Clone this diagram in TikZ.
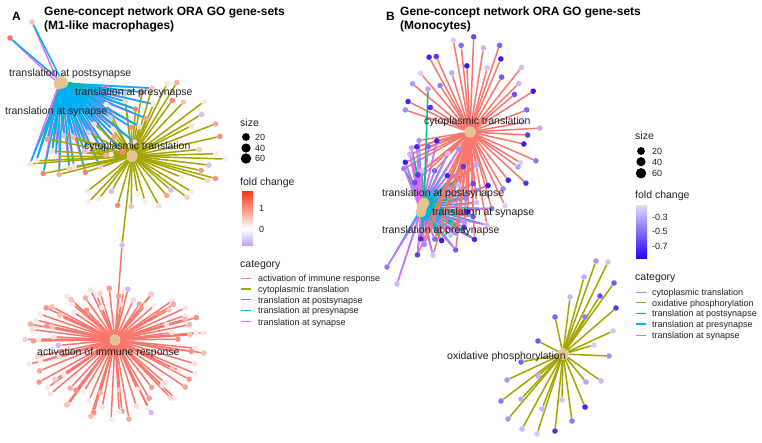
\documentclass[tikz,border=0pt]{standalone}
\usepackage{fontspec}
\setmainfont{Liberation Sans}
\usetikzlibrary{calc}
\pgfdeclarelayer{edges}
\pgfsetlayers{edges,main}

\definecolor{catred}{HTML}{F8766D}
\definecolor{catolive}{HTML}{A3A500}
\definecolor{catgreen}{HTML}{00BF7D}
\definecolor{catblue}{HTML}{00B0F6}
\definecolor{catpink}{HTML}{E76BF3}
\definecolor{hubtan}{HTML}{E6C291}
\definecolor{fcred}{HTML}{F4361C}
\definecolor{fclav}{HTML}{C0A3F6}
\definecolor{fcblue}{HTML}{2A00F2}
\definecolor{fcpale}{HTML}{E3DAFA}
\definecolor{inkgrey}{HTML}{1F1F1F}

\newcommand{\leafsize}{5.6pt}
\newcommand{\hubsize}{11pt}

\tikzset{
  leaf/.style={circle, inner sep=0pt, minimum size=\leafsize},
  hub/.style={circle, inner sep=0pt, minimum size=\hubsize, fill=hubtan},
  link/.style={line width=1.5pt},
  setname/.style={anchor=base west, inner sep=0pt, text=inkgrey,
    font=\fontsize{10.5}{12}\selectfont},
  paneltitle/.style={anchor=base west, inner sep=0pt,
    font=\bfseries\fontsize{12}{14}\selectfont},
  keytitle/.style={anchor=base west, inner sep=0pt, text=inkgrey,
    font=\fontsize{10.5}{12}\selectfont},
  keytext/.style={anchor=base west, inner sep=0pt, text=inkgrey,
    font=\fontsize{9}{11}\selectfont}
}

\begin{document}
\begin{tikzpicture}[x=1pt, y=-1pt]
\useasboundingbox (0,0) rectangle (762,442);

      %% titles
      \node (tagA) at (12,20.5) [paneltitle] {A};
      \node (headA) at (44,15) [paneltitle] {Gene-concept network ORA GO gene-sets};
      \node (subA) at (44,29.5) [paneltitle] {(M1-like macrophages)};
      \node (tagB) at (386,20.5) [paneltitle] {B};
      \node (headB) at (400,15) [paneltitle] {Gene-concept network ORA GO gene-sets};
      \node (subB) at (400,29.5) [paneltitle] {(Monocytes)};

      %% panel A: activation of immune response
      \node (immA) at (115,340) [hub] {};
      \foreach \i in {1,...,96}
      { \pgfmathsetmacro{\a}{\i*3.75+3*sin(\i*71)}
        \pgfmathsetmacro{\f}{0.62+0.38*abs(sin(\i*47))}
        \pgfmathsetmacro{\ry}{ifthenelse(sin(\a)>0,80,52)}
        \pgfmathsetmacro{\dx}{90*\f*cos(\a)}
        \pgfmathsetmacro{\dy}{\ry*\f*sin(\a)}
        \pgfmathtruncatemacro{\p}{10+45*abs(sin(\i*29))^4}
        \pgfmathtruncatemacro{\k}{mod(\i*7,29)}
        \ifnum\k=3 \edef\lc{fclav!75!white}\else\edef\lc{fcred!\p!white}\fi
        \node (immA\i) at ($(immA)+(\dx,\dy)$) [leaf, fill=\lc] {};
      }
      \begin{pgfonlayer}{edges}
        \foreach \i in {1,...,96}
        { \draw[link, catred] (immA) -- (immA\i);}
      \end{pgfonlayer}

      %% panel A: cytoplasmic translation
      \node (cytA) at (132,156) [hub] {};
      \foreach \i in {1,...,30}
      { \pgfmathsetmacro{\a}{-75+\i*6.7+2*sin(\i*83)}
        \pgfmathsetmacro{\f}{0.66+0.34*abs(sin(\i*53))}
        \pgfmathsetmacro{\ry}{ifthenelse(sin(\a)>0,52,85)}
        \pgfmathsetmacro{\dx}{94*\f*cos(\a)}
        \pgfmathsetmacro{\dy}{\ry*\f*sin(\a)}
        \pgfmathtruncatemacro{\p}{10+50*abs(sin(\i*31))^4}
        \pgfmathtruncatemacro{\k}{mod(\i*5,7)}
        \ifnum\k=2 \edef\lc{fclav!70!white}\else\edef\lc{fcred!\p!white}\fi
        \node (cytA\i) at ($(cytA)+(\dx,\dy)$) [leaf, fill=\lc] {};
      }
      \begin{pgfonlayer}{edges}
        \foreach \i in {1,...,30}
        { \draw[link, catolive] (cytA) -- (cytA\i);}
      \end{pgfonlayer}

      %% gene shared by both A modules
      \node (lnkA) at (122,245) [leaf, fill=fclav!75!white] {};
      \begin{pgfonlayer}{edges}
        \draw[link, catolive] (cytA) -- (lnkA);
        \draw[link, catred] (immA) -- (lnkA);
      \end{pgfonlayer}

      %% panel A: synapse gene-sets (three hubs on top of each other)
      \node (postA) at (61,81) [hub] {};
      \node (synA) at (59,84) [hub] {};
      \node (preA) at (63,83) [hub] {};
      \foreach \i in {1,...,34}
      { \pgfmathsetmacro{\a}{\i*3.3}
        \pgfmathsetmacro{\r}{45+48*abs(sin(\i*67))}
        \pgfmathsetmacro{\dx}{\r*cos(\a)}
        \pgfmathsetmacro{\dy}{\r*sin(\a)}
        \pgfmathtruncatemacro{\p}{12+55*abs(sin(\i*43))^3}
        \pgfmathtruncatemacro{\k}{mod(\i*3,8)}
        \ifnum\k=1 \edef\lc{fclav!70!white}\else\edef\lc{fcred!\p!white}\fi
        \node (shA\i) at ($(preA)+(\dx,\dy)$) [leaf, fill=\lc] {};
      }
      \foreach \n/\x/\y/\p in {1/10/38/70, 2/32/22/30}
      { \node (synleafA\n) at (\x,\y) [leaf, fill=fcred!\p!white] {};}
      \begin{pgfonlayer}{edges}
        \foreach \i in {1,...,34}
        { \pgfmathtruncatemacro{\g}{mod(\i,3)}
          \draw[link, catolive] (cytA) -- (shA\i);
          \draw[link, catpink] (synA) -- (shA\i);
          \ifnum\g=0 \draw[link, catgreen] (postA) -- (shA\i); \fi
          \draw[link, catblue] (preA) -- (shA\i);
        }
        \foreach \n in {1,2}
        { \draw[link, catpink] (synA) -- (synleafA\n);
          \draw[link, catblue] (preA) -- (synleafA\n);}
      \end{pgfonlayer}

      %% panel A: gene-set names
      \node (namepostA) at (9,76) [setname] {translation at postsynapse};
      \node (namepreA) at (75,95.5) [setname] {translation at presynapse};
      \node (namesynA) at (5,114.5) [setname] {translation at synapse};
      \node (namecytA) at (84,149.5) [setname] {cytoplasmic translation};
      \node (nameimmA) at (37,355.5) [setname] {activation of immune response};

      %% panel B: cytoplasmic translation
      \node (cytB) at (470,132) [hub] {};
      \foreach \i in {1,...,34}
      { \pgfmathsetmacro{\a}{-175+\i*6.9+2*sin(\i*79)}
        \pgfmathsetmacro{\f}{0.6+0.4*abs(sin(\i*61))}
        \pgfmathsetmacro{\ry}{ifthenelse(sin(\a)>0,85,97)}
        \pgfmathsetmacro{\dx}{70*\f*cos(\a)}
        \pgfmathsetmacro{\dy}{\ry*\f*sin(\a)}
        \pgfmathtruncatemacro{\p}{5+85*abs(sin(\i*37))^2}
        \node (cytB\i) at ($(cytB)+(\dx,\dy)$) [leaf, fill=fcblue!\p!fcpale] {};
      }
      \begin{pgfonlayer}{edges}
        \foreach \i in {1,...,34}
        { \draw[link, catred] (cytB) -- (cytB\i);}
      \end{pgfonlayer}

      %% panel B: synapse gene-sets
      \node (postB) at (424,203) [hub] {};
      \node (preB) at (422,207) [hub] {};
      \node (synB) at (421,212) [hub] {};
      \foreach \i in {1,...,38}
      { \pgfmathsetmacro{\a}{-150+\i*6.6}
        \pgfmathsetmacro{\r}{30+40*abs(sin(\i*59))}
        \pgfmathsetmacro{\dx}{\r*cos(\a)*ifthenelse(cos(\a)<0,0.35,1)}
        \pgfmathsetmacro{\dy}{\r*sin(\a)*ifthenelse(sin(\a)>0,0.7,1)}
        \pgfmathtruncatemacro{\p}{10+80*abs(sin(\i*41))^2}
        \node (shB\i) at ($(preB)+(\dx,\dy)$) [leaf, fill=fcblue!\p!fcpale] {};
      }
      \foreach \n/\x/\y/\p in {1/387/267/45, 2/397/284/15}
      { \node (synleafB\n) at (\x,\y) [leaf, fill=fcblue!\p!fcpale] {};}
      \node (postleafB) at (428,89) [leaf, fill=fcblue!25!fcpale] {};
      \begin{pgfonlayer}{edges}
        \foreach \i in {1,...,38}
        { \pgfmathtruncatemacro{\g}{mod(\i,4)}
          \draw[link, catred] (cytB) -- (shB\i);
          \draw[link, catblue] (preB) -- (shB\i);
          \ifnum\g=1 \draw[link, catgreen] (postB) -- (shB\i); \fi
          \draw[link, catpink] (synB) -- (shB\i);
        }
        \foreach \n in {1,2}
        { \draw[link, catblue] (preB) -- (synleafB\n);
          \draw[link, catpink] (synB) -- (synleafB\n);}
        \draw[link, catgreen] (postB) -- (postleafB);
      \end{pgfonlayer}

      %% panel B: oxidative phosphorylation
      \node (oxB) at (563,354) [hub] {};
      \foreach \n/\x/\y/\p in {1/596/261/30, 2/608/262/10, 3/584/277/20,
        4/614/283/60, 5/570/297/15, 6/600/296/65, 7/555/317/55, 8/585/317/45,
        9/616/308/75, 10/613/331/10, 11/594/345/5, 12/609/356/35,
        13/538/341/60, 14/521/362/55, 15/507/380/30, 16/538/376/20,
        17/586/382/25, 18/601/381/15, 19/501/401/45, 20/521/399/20,
        21/542/409/15, 22/562/400/10, 23/585/407/85, 24/508/419/30,
        25/522/429/15, 26/537/434/5, 27/555/431/80, 28/572/421/45}
      { \node (oxB\n) at (\x,\y) [leaf, fill=fcblue!\p!fcpale] {};}
      \begin{pgfonlayer}{edges}
        \foreach \n in {1,...,28}
        { \draw[link, catolive] (oxB) -- (oxB\n);}
      \end{pgfonlayer}

      %% panel B: gene-set names
      \node (namecytB) at (424,124.5) [setname] {cytoplasmic translation};
      \node (namepostB) at (382,196) [setname] {translation at postsynapse};
      \node (namesynB) at (432,215) [setname] {translation at synapse};
      \node (namepreB) at (382,233.5) [setname] {translation at presynapse};
      \node (nameoxB) at (447,359.5) [setname] {oxidative phosphorylation};

      %% legend A
      \node (sizeA) at (240,126) [keytitle] {size};
      \foreach \y/\d/\t in {137/3.9pt/20, 148/4.6pt/40, 158.5/5.2pt/60}
      { \fill (246,\y) circle[radius=\d];
        \node at (255,\y+3.3) [keytext] {\t};}
      \node (foldA) at (240,185) [keytitle] {fold change};
      \shade[top color=fcred, bottom color=white] (242,191) rectangle (253,229);
      \shade[top color=white, bottom color=fclav] (242,229) rectangle (253,245);
      \node at (259,211) [keytext] {1};
      \node at (259,232.5) [keytext] {0};
      \node (catA) at (240,267) [keytitle] {category};
      \foreach \y/\c/\t in {278.3/catred/activation of immune response,
        289/catolive/cytoplasmic translation,
        299.7/catgreen/translation at postsynapse,
        310.3/catblue/translation at presynapse,
        321.7/catpink/translation at synapse}
      { \draw[link, \c] (241,\y) -- (251,\y);
        \node at (258,\y+3.3) [keytext] {\t};}

      %% legend B
      \node (sizeB) at (635,139.5) [keytitle] {size};
      \foreach \y/\d/\t in {151/3.9pt/20, 161.7/4.6pt/40, 173.3/5.2pt/60}
      { \fill (641,\y) circle[radius=\d];
        \node at (652,\y+3.3) [keytext] {\t};}
      \node (foldB) at (635,198.5) [keytitle] {fold change};
      \shade[top color=fcpale, bottom color=fcblue] (636,205) rectangle (647,258);
      \foreach \y/\t in {216.7/-0.3, 231/-0.5, 245.7/-0.7}
      { \node at (652,\y+3.3) [keytext] {\t};}
      \node (catB) at (635,280) [keytitle] {category};
      \foreach \y/\c/\t in {292.3/catred/cytoplasmic translation,
        302.7/catolive/oxidative phosphorylation,
        313.3/catgreen/translation at postsynapse,
        324/catblue/translation at presynapse,
        335.3/catpink/translation at synapse}
      { \draw[link, \c] (636,\y) -- (646,\y);
        \node at (652,\y+3.3) [keytext] {\t};}

\end{tikzpicture}
\end{document}
